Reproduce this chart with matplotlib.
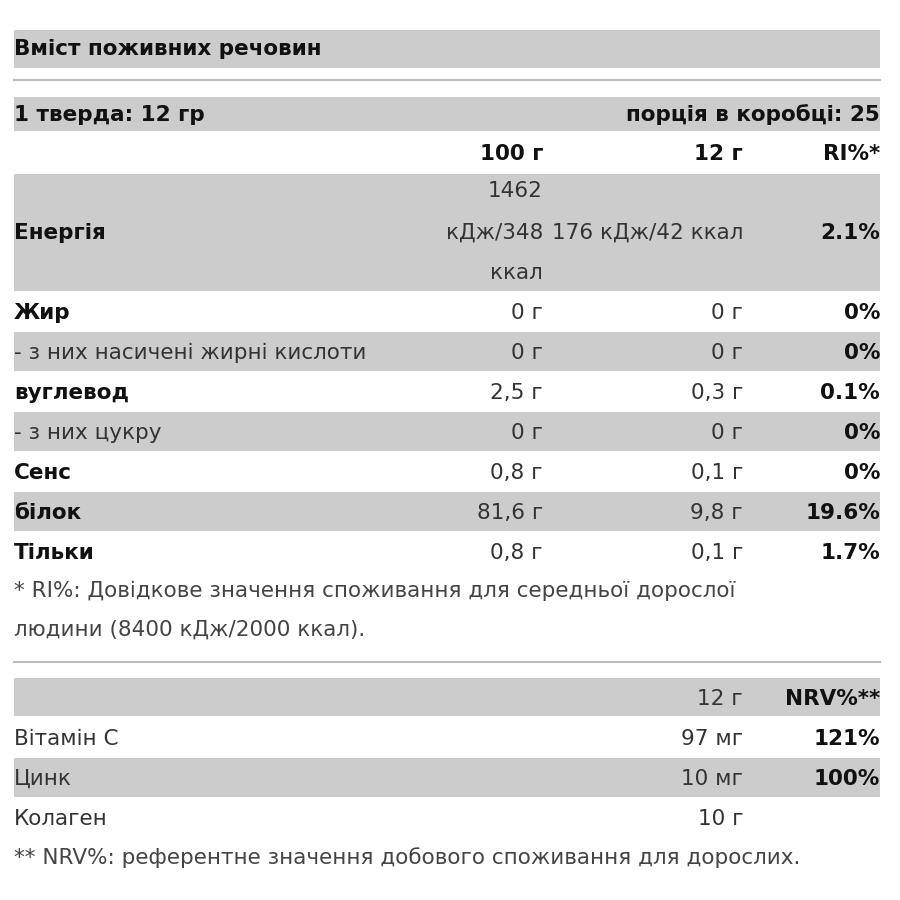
import matplotlib
matplotlib.use("Agg")
import matplotlib.pyplot as plt
from matplotlib.patches import Rectangle

title = "Вміст поживних речовин"
serving_left = "1 тверда: 12 гр"
serving_right = "порція в коробці: 25"
headers = ["100 г", "12 г", "RI%*"]
nutrients = ["Жир", "- з них насичені жирні кислоти", "вуглевод", "- з них цукру", "Сенс", "білок", "Тільки"]
nutrient_bold = [True, False, True, False, True, True, True]
per100 = ["0 г", "0 г", "2,5 г", "0 г", "0,8 г", "81,6 г", "0,8 г"]
per12 = ["0 г", "0 г", "0,3 г", "0 г", "0,1 г", "9,8 г", "0,1 г"]
ri = ["0%", "0%", "0.1%", "0%", "0%", "19.6%", "1.7%"]
energy_100 = ["1462", "кДж/348", "ккал"]
energy_12 = "176 кДж/42 ккал"
energy_ri = "2.1%"
foot1 = ["* RI%: Довідкове значення споживання для середньої дорослої", "людини (8400 кДж/2000 ккал)."]
vit_header = ["12 г", "NRV%**"]
vitamins = ["Вітамін С", "Цинк", "Колаген"]
vit_amount = ["97 мг", "10 мг", "10 г"]
vit_nrv = ["121%", "100%", ""]
foot2 = "** NRV%: референтне значення добового споживання для дорослих."

GREY = "#cccccc"
FS = 15.5
plt.rcParams['font.family'] = ['DejaVu Sans']
fig = plt.figure(figsize=(9, 9), dpi=100)
ax = fig.add_axes([0, 0, 1, 1])
ax.set_xlim(0, 900); ax.set_ylim(900, 0); ax.axis('off')
L, R, C1, C2 = 14, 880, 543, 743

def band(y0, y1):
    ax.add_patch(Rectangle((L, y0), R - L, y1 - y0, color=GREY, lw=0))
def t(x, y, s, bold=False, ha='left', color='#111111'):
    ax.text(x, y + 1, s, fontsize=FS, fontweight='bold' if bold else 'normal', ha=ha, va='center', color=color)

band(30, 68); t(L, 48, title, True)
ax.plot([L, R], [80, 80], color='#bbbbbb', lw=1.5)
band(97, 131); t(L, 114, serving_left, True); t(R, 114, serving_right, True, 'right')
for x, h in zip([C1, C2, R], headers):
    t(x, 153, h, True, 'right')
band(174, 291)
t(L, 232, "Енергія", True)
for y, s in zip([190, 232, 272], energy_100):
    t(C1, y, s, ha='right', color='#333333')
t(C2, 232, energy_12, ha='right', color='#333333'); t(R, 232, energy_ri, True, 'right')
for i, (n, b, a, c, r) in enumerate(zip(nutrients, nutrient_bold, per100, per12, ri)):
    y0 = 292 + 40 * i
    if i % 2 == 1:
        band(y0, y0 + 39)
    yc = y0 + 20
    t(L, yc, n, b, color='#111111' if b else '#333333')
    t(C1, yc, a, ha='right', color='#333333'); t(C2, yc, c, ha='right', color='#333333'); t(R, yc, r, True, 'right')
for i, s in enumerate(foot1):
    t(L, 590 + 39 * i, s, color='#444444')
ax.plot([L, R], [662, 662], color='#bbbbbb', lw=1.5)
band(678, 716)
t(C2, 698, vit_header[0], ha='right', color='#333333'); t(R, 698, vit_header[1], True, 'right')
for i, (v, a, n) in enumerate(zip(vitamins, vit_amount, vit_nrv)):
    y0 = 718 + 40 * i
    if i % 2 == 1:
        band(y0, y0 + 39)
    yc = y0 + 20
    t(L, yc, v, color='#333333'); t(C2, yc, a, ha='right', color='#333333'); t(R, yc, n, True, 'right')
t(L, 857, foot2, color='#444444')
fig.savefig("out.png", dpi=100, facecolor='white')
